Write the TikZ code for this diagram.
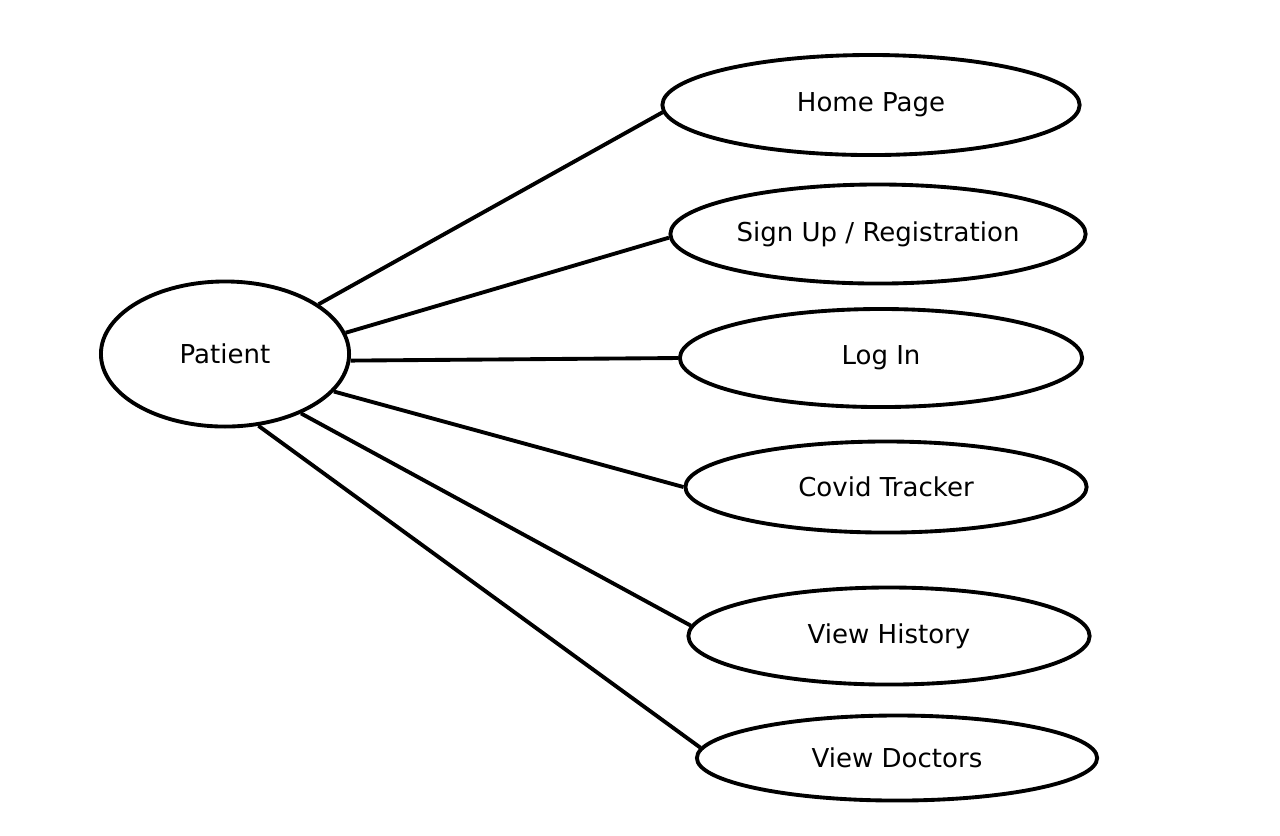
\documentclass[tikz,border=0pt]{standalone}
\usepackage{fontspec}
\setmainfont{DejaVu Sans}
\usetikzlibrary{shapes.geometric}

\begin{document}
\begin{tikzpicture}[x=0.01cm,y=-0.01cm]
	\tikzset{usecase/.style={draw, ellipse, line width=1.1pt, inner sep=0pt, font=\fontsize{7.4}{9}\selectfont}}
	\tikzset{assoc/.style={line width=1.1pt}}
	\useasboundingbox (0,0) rectangle (1280,835);

	\node[usecase, minimum width=2.48cm, minimum height=1.45cm] (patient) at (225,354) {Patient};
	\node[usecase, minimum width=4.17cm, minimum height=1.00cm] (home) at (871,105) {Home Page};
	\node[usecase, minimum width=4.15cm, minimum height=0.99cm] (signup) at (878,234) {Sign Up / Registration};
	\node[usecase, minimum width=4.02cm, minimum height=0.98cm] (login) at (881,358) {Log In};
	\node[usecase, minimum width=4.01cm, minimum height=0.91cm] (covid) at (886,487) {Covid Tracker};
	\node[usecase, minimum width=4.01cm, minimum height=0.97cm] (history) at (889,636) {View History};
	\node[usecase, minimum width=4.00cm, minimum height=0.85cm] (doctors) at (897,758) {View Doctors};

	% patient to each use case
	\draw[assoc] (patient.28.7) -- (home.182.8);
	\draw[assoc] (patient.10.6) -- (signup.181);
	\draw[assoc] (patient.-3.2) -- (login.180);
	\draw[assoc] (patient.-19.6) -- (covid.180);
	\draw[assoc] (patient.-38.2) -- (history.177.4);
	\draw[assoc] (patient.-65.4) -- (doctors.177);
\end{tikzpicture}
\end{document}
